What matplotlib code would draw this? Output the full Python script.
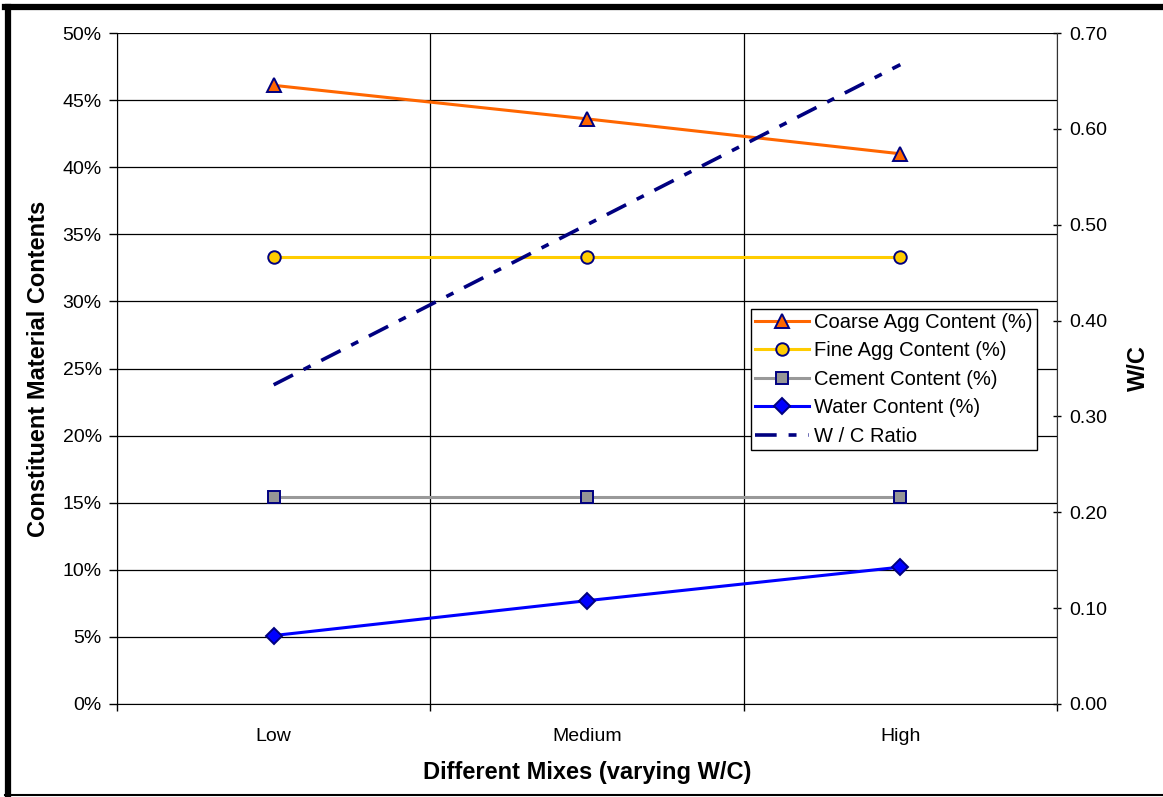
import matplotlib
matplotlib.use("Agg")
import matplotlib.pyplot as plt
from matplotlib.lines import Line2D
from matplotlib.ticker import FuncFormatter, FixedLocator

plt.rcParams['font.family'] = ['Liberation Sans', 'DejaVu Sans']

mixes = ["Low", "Medium", "High"]
coarse_agg = [46.1, 43.6, 41.0]
fine_agg = [33.3, 33.3, 33.3]
cement = [15.4, 15.4, 15.4]
water = [5.1, 7.7, 10.2]
wc_ratio = [0.333, 0.50, 0.667]

fig = plt.figure(figsize=(11.63, 7.97), dpi=100)
ax = fig.add_axes([117 / 1163, 1 - 704 / 797, 940 / 1163, 671 / 797])
ax2 = ax.twinx()

x = [1, 2, 3]
mk_edge = "#000080"
ax.plot(x, coarse_agg, color="#FF6600", lw=2.2, marker="^", ms=10,
        mfc="#FF6600", mec=mk_edge, mew=1.4, label="Coarse Agg Content (%)", zorder=5)
ax.plot(x, fine_agg, color="#FFCC00", lw=2.2, marker="o", ms=9,
        mfc="#FFCC00", mec=mk_edge, mew=1.4, label="Fine Agg Content (%)", zorder=5)
ax.plot(x, cement, color="#999999", lw=2.2, marker="s", ms=8.5,
        mfc="#969696", mec=mk_edge, mew=1.4, label="Cement Content (%)", zorder=5)
ax.plot(x, water, color="#0000FF", lw=2.2, marker="D", ms=8,
        mfc="#0000FF", mec=mk_edge, mew=1.4, label="Water Content (%)", zorder=5)
wc_line, = ax2.plot(x, wc_ratio, color="#000080", lw=2.6,
                    dashes=(6, 3.3, 2.2, 3.3), label="W / C Ratio", zorder=5)

ax.set_xlim(0.5, 3.5)
ax.set_ylim(0, 50)
ax2.set_ylim(0, 0.70)

ax.set_yticks(range(0, 51, 5))
ax.yaxis.set_major_formatter(FuncFormatter(lambda v, p: f"{int(v)}%"))
ax2.set_yticks([i / 10 for i in range(0, 8)])
ax2.yaxis.set_major_formatter(FuncFormatter(lambda v, p: f"{v:.2f}"))

ax.set_xticks(x)
ax.set_xticklabels(mixes)
ax.xaxis.set_minor_locator(FixedLocator([0.5, 1.5, 2.5, 3.5]))
ax.tick_params(axis="x", which="major", length=0, pad=17, labelsize=14)
ax.tick_params(axis="x", which="minor", length=5, width=1, direction="out")
ax.tick_params(axis="y", length=6, width=1, direction="out", labelsize=14, pad=5)
ax2.tick_params(axis="y", length=6, width=1, direction="inout", labelsize=14, pad=6)

ax.grid(True, axis="y", color="black", lw=0.9)
ax.grid(True, axis="x", which="minor", color="black", lw=0.9)
ax.set_axisbelow(True)

ax.spines["top"].set_visible(False)
ax2.spines["top"].set_visible(False)
ax.spines["right"].set_visible(False)
ax2.spines["left"].set_visible(False)
ax2.spines["bottom"].set_visible(False)
ax2.spines["right"].set_color("#333333")
ax.spines["left"].set_color("black")
ax.spines["bottom"].set_color("black")

ax.set_ylabel("Constituent Material Contents", fontsize=17, fontweight="bold", labelpad=9)
ax2.set_ylabel("W/C", fontsize=17, fontweight="bold", labelpad=14)
ax.set_xlabel("Different Mixes (varying W/C)", fontsize=17, fontweight="bold", labelpad=12)

handles = ax.get_legend_handles_labels()[0] + [wc_line]
labels = [h.get_label() for h in handles]
leg = ax2.legend(handles, labels, loc="upper left",
                 bbox_to_anchor=((751 - 117) / 940, (704 - 309) / 671),
                 fontsize=14.5, frameon=True, fancybox=False, framealpha=1,
                 edgecolor="black", borderpad=0.2, handlelength=2.7,
                 handletextpad=0.25, labelspacing=0.47, borderaxespad=0)
leg.get_frame().set_linewidth(1)

# outer frame
fig.add_artist(Line2D([8 / 1163, 8 / 1163], [1 - 7 / 797, 1 - 795 / 797],
                      transform=fig.transFigure, color="black", lw=4.5))
fig.add_artist(Line2D([5 / 1163, 1], [1 - 7 / 797, 1 - 7 / 797],
                      transform=fig.transFigure, color="black", lw=4.5))
fig.add_artist(Line2D([5 / 1163, 1], [1 - 795 / 797, 1 - 795 / 797],
                      transform=fig.transFigure, color="black", lw=1.5))

fig.savefig("out.png", dpi=100)
